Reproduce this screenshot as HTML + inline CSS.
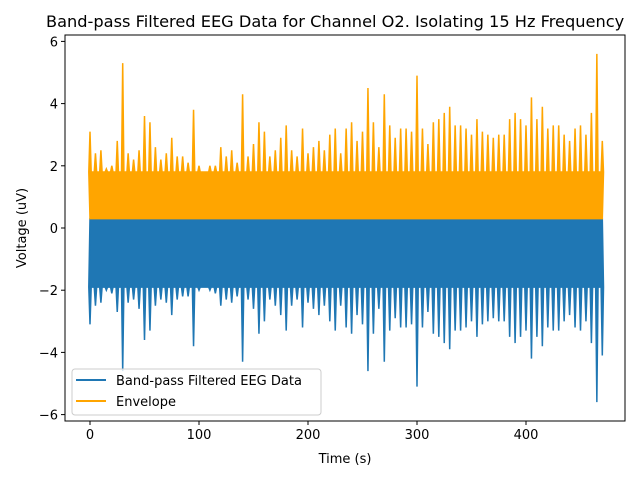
<!DOCTYPE html>
<html><head><meta charset="utf-8"><style>
body{margin:0;background:#fff;}
svg{font-family:"DejaVu Sans","Liberation Sans",sans-serif;}
</style></head><body>
<svg id="chart" width="640" height="480" xmlns="http://www.w3.org/2000/svg">
<rect width="640" height="480" fill="#fff"/>
<text x="46" y="27" font-size="16.2" text-anchor="start">Band-pass Filtered EEG Data for Channel O2. Isolating 15 Hz Frequency</text>
<g id="plot"></g>
<g id="axes"></g>
<text x="345" y="463" font-size="13" text-anchor="middle">Time (s)</text>
<text x="0" y="0" font-size="13" text-anchor="middle" transform="translate(26,228) rotate(-90)">Voltage (uV)</text>
<g>
<rect x="72" y="369" width="249" height="46" rx="3" fill="#fff" fill-opacity="0.8" stroke="#ccc"/>
<line x1="76" y1="380" x2="106" y2="380" stroke="#1f77b4" stroke-width="2"/>
<text x="116" y="385" font-size="13">Band-pass Filtered EEG Data</text>
<line x1="76" y1="401" x2="106" y2="401" stroke="#ffa500" stroke-width="2"/>
<text x="116" y="406" font-size="13">Envelope</text>
</g>
</svg>
<script>
const times=[0,5,10,15,20,25,30,35,40,45,50,55,60,65,70,75,80,85,90,95,100,105,110,115,120,125,130,135,140,145,150,155,160,165,170,175,180,185,190,195,200,205,210,215,220,225,230,235,240,245,250,255,260,265,270,275,280,285,290,295,300,305,310,315,320,325,330,335,340,345,350,355,360,365,370,375,380,385,390,395,400,405,410,415,420,425,430,435,440,445,450,455,460,465,470];
const envelopePeaks=[3.1,2.4,2.5,1.9,2.0,2.8,5.3,2.4,2.2,2.5,3.6,3.4,2.6,2.2,2.4,2.9,2.3,2.3,2.1,3.8,2.0,1.8,2.0,2.0,2.6,2.3,2.5,2.1,4.3,2.3,2.7,3.4,3.1,2.3,2.5,2.9,3.3,2.5,2.3,3.2,2.4,2.6,2.8,2.5,3.0,3.2,2.4,3.2,3.4,2.8,3.1,4.5,3.4,2.6,4.3,3.3,2.9,3.2,3.2,3.1,4.9,3.2,2.7,3.4,3.5,3.7,3.9,3.3,3.3,3.2,3.0,3.5,3.1,3.0,2.9,3.0,3.0,3.5,3.7,3.5,3.3,4.2,3.5,3.9,3.2,3.3,3.3,3.0,2.8,3.2,3.3,3.0,3.7,5.6,2.8];
const signalMins=[-3.1,-2.5,-2.4,-2.0,-2.1,-2.7,-4.6,-2.4,-2.3,-2.6,-3.6,-3.3,-2.5,-2.3,-2.4,-2.8,-2.3,-2.2,-2.2,-3.8,-2.0,-1.9,-2.0,-2.1,-2.5,-2.3,-2.4,-2.2,-4.3,-2.3,-2.6,-3.4,-3.0,-2.3,-2.5,-2.8,-3.3,-2.5,-2.3,-3.2,-2.4,-2.6,-2.8,-2.5,-3.0,-3.3,-2.5,-3.2,-3.4,-2.8,-3.1,-4.6,-3.4,-2.6,-4.3,-3.3,-2.9,-3.2,-3.2,-3.1,-5.1,-3.2,-2.7,-3.4,-3.5,-3.7,-3.9,-3.3,-3.3,-3.2,-3.0,-3.5,-3.1,-3.0,-2.9,-3.0,-3.0,-3.5,-3.7,-3.5,-3.3,-4.2,-3.5,-3.8,-3.2,-3.3,-3.3,-3.0,-2.8,-3.2,-3.3,-3.0,-3.7,-5.6,-4.1];
const xTicks=[0,100,200,300,400];
const yTicks=[-6,-4,-2,0,2,4,6];

const NS="http://www.w3.org/2000/svg";
const L=65,R=625,T=35,B=421;
const xs=t=>90+t*1.09;
const ys=v=>228-v*31.1;
const plot=document.getElementById('plot'),axes=document.getElementById('axes');
function mk(tag,at,parent){const e=document.createElementNS(NS,tag);for(const k in at)e.setAttribute(k,at[k]);parent.appendChild(e);return e;}
let bp=[];const bodyLow=-1.9,bodyHigh=0.3,envBody=1.8,envBase=0.3;
times.forEach((t,i)=>{const x=xs(t);bp.push([x-1.2,ys(bodyLow)],[x,ys(signalMins[i])],[x+1.2,ys(bodyLow)]);});
let bpTop=times.map(t=>[xs(t),ys(bodyHigh)]).reverse();
const blue=mk('polygon',{points:bp.concat(bpTop).map(p=>p.join(',')).join(' '),fill:'#1f77b4',stroke:'#1f77b4','stroke-width':1.5},plot);


let op=[];
times.forEach((t,i)=>{const x=xs(t);op.push([x-1.2,ys(envBody)],[x,ys(envelopePeaks[i])],[x+1.2,ys(envBody)]);});
let opBot=times.map(t=>[xs(t),ys(envBase)]).reverse();
const orange=mk('polygon',{points:op.concat(opBot).map(p=>p.join(',')).join(' '),fill:'#ffa500',stroke:'#ffa500','stroke-width':1.5},plot);


const frame=mk('rect',{x:L,y:T,width:R-L,height:B-T,fill:'none',stroke:'#000','stroke-width':1},axes);


xTicks.forEach(v=>{const x=xs(v);
 const tk=mk('line',{x1:x,x2:x,y1:B,y2:B+4,stroke:'#000'},axes);
 
 
 const tx=mk('text',{x:x,y:B+18,'font-size':13,'text-anchor':'middle'},axes);tx.textContent=v;
 
 });
yTicks.forEach(v=>{const y=ys(v);
 const tk=mk('line',{x1:L-4,x2:L,y1:y,y2:y,stroke:'#000'},axes);
 
 
 const tx=mk('text',{x:L-7,y:y+5,'font-size':13,'text-anchor':'end'},axes);tx.textContent=(v<0?'\u2212'+(-v):v);
 
 });
</script>
</body></html>
